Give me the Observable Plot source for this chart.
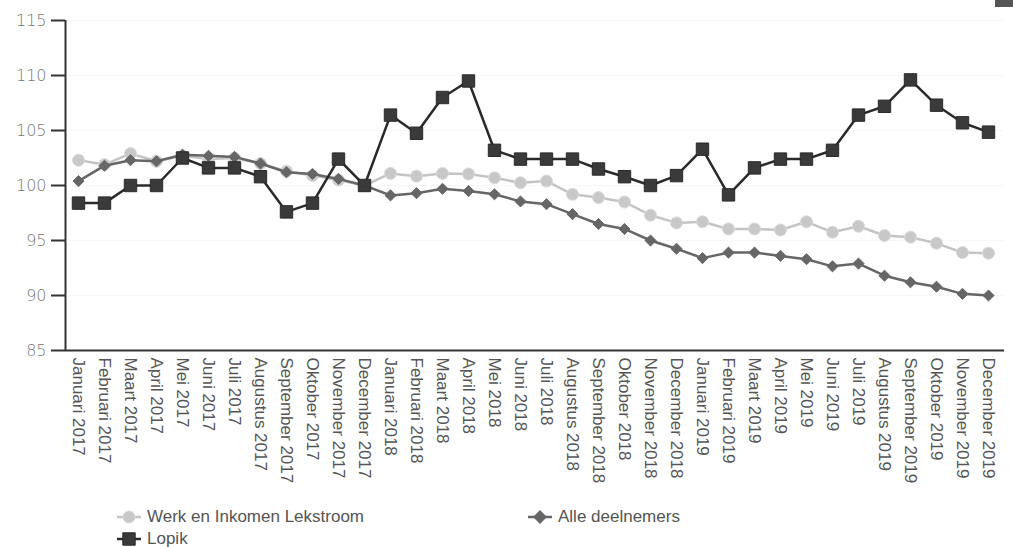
<!DOCTYPE html>
<html>
<head>
<meta charset="utf-8">
<script src="https://cdn.jsdelivr.net/npm/d3@7"></script>
<script src="https://cdn.jsdelivr.net/npm/@observablehq/plot@0.6"></script>
<style>
  html, body { margin: 0; padding: 0; background: #fff; }
  #wrap { position: relative; width: 1013px; height: 547px; overflow: hidden; font-family: "Liberation Sans", Arial, sans-serif; }
  #legend { position: absolute; left: 0; top: 506px; width: 1013px; height: 41px; }
  .item { position: absolute; display: flex; align-items: center; font-size: 17px; color: #555; white-space: nowrap; }
  .item svg { margin-right: 5px; }
  #corner { position: absolute; right: 0; top: 0; width: 18px; height: 7px; background: #555; }
</style>
</head>
<body>
<div id="wrap">
  <div id="chart"></div>
  <div id="legend"></div>
  <div id="corner"></div>
</div>
<script>
const months = [
  "Januari 2017","Februari 2017","Maart 2017","April 2017","Mei 2017","Juni 2017",
  "Juli 2017","Augustus 2017","September 2017","Oktober 2017","November 2017","December 2017",
  "Januari 2018","Februari 2018","Maart 2018","April 2018","Mei 2018","Juni 2018",
  "Juli 2018","Augustus 2018","September 2018","Oktober 2018","November 2018","December 2018",
  "Januari 2019","Februari 2019","Maart 2019","April 2019","Mei 2019","Juni 2019",
  "Juli 2019","Augustus 2019","September 2019","Oktober 2019","November 2019","December 2019"
];

const werk = [
  102.3, 101.9, 102.9, 102.2, 102.7, 102.4, 102.5, 102.0, 101.3, 100.9, 100.5, 100.0,
  101.1, 100.85, 101.1, 101.05, 100.7, 100.25, 100.4, 99.2, 98.9, 98.5, 97.3, 96.6,
  96.7, 96.05, 96.05, 95.95, 96.7, 95.75, 96.3, 95.45, 95.3, 94.75, 93.9, 93.85
];

const alle = [
  100.4, 101.8, 102.3, 102.2, 102.8, 102.7, 102.6, 102.0, 101.2, 101.05, 100.6, 100.0,
  99.1, 99.3, 99.7, 99.5, 99.2, 98.55, 98.3, 97.4, 96.5, 96.05, 95.0, 94.25,
  93.4, 93.9, 93.9, 93.6, 93.3, 92.65, 92.9, 91.8, 91.2, 90.8, 90.15, 90.0
];

const lopik = [
  98.4, 98.4, 100.0, 100.0, 102.5, 101.6, 101.6, 100.8, 97.6, 98.4, 102.4, 100.0,
  106.4, 104.75, 108.0, 109.5, 103.2, 102.4, 102.4, 102.4, 101.5, 100.8, 100.0, 100.9,
  103.3, 99.15, 101.6, 102.4, 102.4, 103.2, 106.4, 107.2, 109.6, 107.3, 105.7, 104.85
];

const yTicks = [85, 90, 95, 100, 105, 110, 115];

const seriesNames = ["Werk en Inkomen Lekstroom", "Alle deelnemers", "Lopik"];

const styles = {
  "Werk en Inkomen Lekstroom": {line: "#c4c4c4", fill: "#c8c8c8", stroke: "#dadada", symbol: "circle", r: 6, sw: 2.5},
  "Alle deelnemers": {line: "#666666", fill: "#666666", stroke: "#666666", symbol: "diamond2", r: 5, sw: 2.5},
  "Lopik": {line: "#2a2a2a", fill: "#3a3a3a", stroke: "#2a2a2a", symbol: "square", r: 7, sw: 2.5}
};

const seriesData = {
  "Werk en Inkomen Lekstroom": werk,
  "Alle deelnemers": alle,
  "Lopik": lopik
};

const marks = [
  Plot.gridY(yTicks.filter(d => d > 85), {stroke: "#000", strokeOpacity: 0.03}),
  Plot.axisY({ticks: yTicks, tickSize: 14, tickPadding: 5, fontSize: 16, stroke: "#333", strokeWidth: 2,
    fill: "#777", label: null, fontFamily: "DejaVu Sans", fontWeight: 200}),
  Plot.axisX({tickSize: 0, tickPadding: 7, tickRotate: 90, fontSize: 17, fill: "#555",
    label: null, textAnchor: "start"}),
  // axis lines
  Plot.ruleY([85], {stroke: "#333", strokeWidth: 2}),
  Plot.ruleX([months[0]], {y1: 85, y2: 115, dx: -13, stroke: "#333", strokeWidth: 2})
];

for (const name of seriesNames) {
  const s = styles[name];
  const rows = months.map((m, i) => ({month: m, value: seriesData[name][i]}));
  marks.push(Plot.line(rows, {x: "month", y: "value", stroke: s.line, strokeWidth: s.sw}));
  marks.push(Plot.dot(rows, {x: "month", y: "value", symbol: s.symbol, r: s.r, fill: s.fill, stroke: s.stroke, strokeWidth: 1}));
}

const chart = Plot.plot({
  width: 1013,
  height: 505,
  marginLeft: 65,
  marginRight: 9,
  marginTop: 20,
  marginBottom: 155,
  style: {fontFamily: "Liberation Sans, Arial, sans-serif", background: "#fff"},
  x: {type: "point", domain: months, range: [78, 988], padding: 0},
  y: {domain: [85, 115]},
  marks
});
document.getElementById("chart").appendChild(chart);

// legend
const legendPos = {
  "Werk en Inkomen Lekstroom": [116, 1],
  "Alle deelnemers": [527, 1],
  "Lopik": [116, 23]
};
const legend = document.getElementById("legend");
for (const name of seriesNames) {
  const s = styles[name];
  const item = document.createElement("div");
  item.className = "item";
  item.style.left = legendPos[name][0] + "px";
  item.style.top = legendPos[name][1] + "px";
  const sym = d3.symbol(name === "Werk en Inkomen Lekstroom" ? d3.symbolCircle : d3.symbolSquare, Math.PI * s.r * s.r)();
  const rot = name === "Alle deelnemers" ? "rotate(45)" : "";
  item.innerHTML = `<svg width="26" height="18"><line x1="1" x2="25" y1="9" y2="9" stroke="${s.line}" stroke-width="${s.sw}"/><g transform="translate(13,9) ${rot}"><path d="${sym}" fill="${s.fill}" stroke="${s.stroke}"/></g></svg><span>${name}</span>`;
  legend.appendChild(item);
}
</script>
</body>
</html>
